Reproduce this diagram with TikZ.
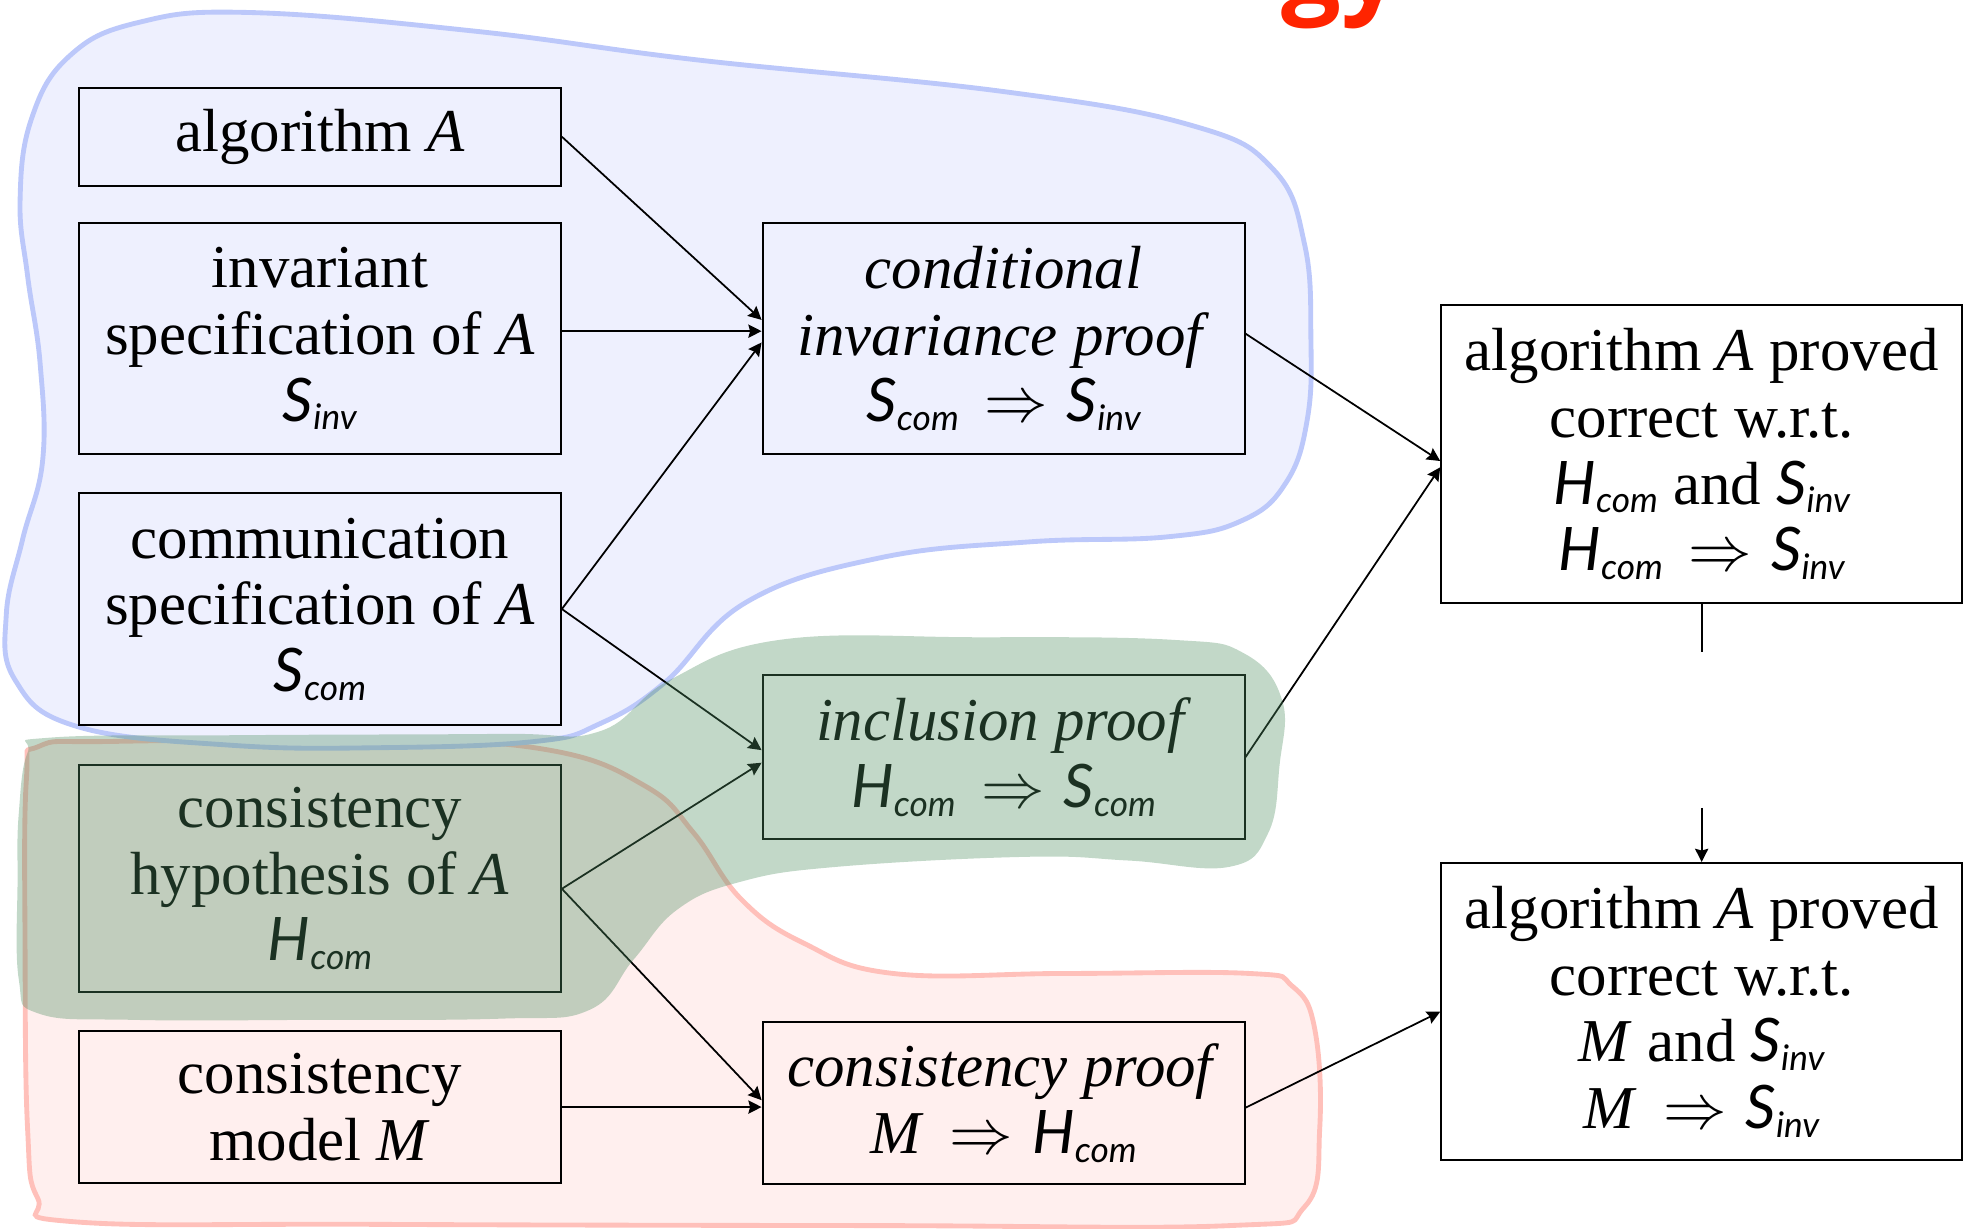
\documentclass[tikz,border=0pt]{standalone}
\usepackage{fontspec}
\setmainfont{Liberation Serif}
\newfontfamily\specfont{Lato}
\newfontfamily\headfont{Open Sans}
\usetikzlibrary{arrows.meta,calc}

\definecolor{bluefill}{RGB}{238,240,254}
\definecolor{blueline}{RGB}{188,200,250}
\definecolor{pinkfill}{RGB}{255,239,238}
\definecolor{pinkline}{RGB}{255,192,186}
\definecolor{greenzone}{RGB}{80,143,98}
\definecolor{headred}{RGB}{255,36,0}

% sans-italic specification symbols with their subscripts
\newcommand\specsym[2]{{\specfont\itshape\fontsize{13.6}{15}\selectfont #1}\raisebox{-2pt}{\specfont\itshape\fontsize{8}{9}\selectfont #2}}
\newcommand\Sinv{\specsym{S}{inv}}
\newcommand\Scom{\specsym{S}{com}}
\newcommand\Hcom{\specsym{H}{com}}
\newcommand\thento{\ $\mkern3mu\Rightarrow\mkern1mu$\ }

\begin{document}
\begin{tikzpicture}[x=0.01cm,y=-0.01cm,
  box/.style={draw,line width=0.45pt,inner sep=0pt,align=center,
    font=\fontsize{13.8}{15.1}\selectfont},
  leftbox/.style={box,minimum width=3.84cm},
  midbox/.style={box,minimum width=3.84cm},
  resultbox/.style={box,minimum width=4.15cm},
  conn/.style={line width=0.4pt,-{Stealth[length=3pt,width=3pt,inset=0.4pt]}},
  plainline/.style={line width=0.4pt},
  bluezone/.style={fill=bluefill,draw=blueline,line width=1.1pt},
  pinkzone/.style={fill=pinkfill,draw=pinkline,line width=1.1pt},
]
\useasboundingbox (0,0) rectangle (1568,979);

% heading, cut by the top edge
\begin{scope}
  \clip (0,0) rectangle (1568,979);
  \node[anchor=base west,text=headred,inner sep=0pt,
        font=\headfont\bfseries\fontsize{24}{24}\selectfont] (head) at (1021,3) {gy};
\end{scope}

% consistency zone
\draw[pinkzone] plot[smooth cycle,tension=0.7] coordinates {
  (21,622) (31,595) (92,591) (305,590) (438,598) (515,627) (553,664)
  (591,717) (641,752) (712,776) (850,776) (996,776) (1030,786) (1048,820)
  (1052,900) (1040,962) (980,977) (700,977) (300,976) (60,974)
  (30,955) (22,900) (20,760)};

% invariance zone
\draw[bluezone] plot[smooth cycle,tension=0.7] coordinates {
  (16,160) (25,95) (55,45) (110,18) (200,10) (380,25) (558,48) (800,73)
  (950,100) (1015,135) (1040,195) (1045,270) (1042,335) (1025,385)
  (990,415) (930,428) (820,432) (700,445) (595,480) (530,544)
  (478,577) (427,591) (305,596) (183,594) (61,579) (12,542) (5,490)
  (18,430) (34,367) (32,290) (22,220)};

% inputs
\node[leftbox,minimum height=0.78cm] (alg) at (255,109) {algorithm \textit{A}};
\node[leftbox,minimum height=1.84cm] (inv) at (255,270)
  {invariant\\specification of \textit{A}\\\Sinv};
\node[leftbox,minimum height=1.85cm] (comm) at (255,485.5)
  {communication\\specification of \textit{A}\\\Scom};
\node[leftbox,minimum height=1.81cm] (hyp) at (255,700.5)
  {consistency\\hypothesis of \textit{A}\\\Hcom};
\node[leftbox,minimum height=1.21cm] (model) at (255,882.5)
  {consistency\\model \textit{M}};

% proofs
\node[midbox,minimum height=1.84cm] (cond) at (800,270)
  {\textit{conditional}\\\textit{invariance proof}\\\Scom\thento\Sinv};
\node[midbox,minimum height=1.31cm] (incl) at (800,603.5)
  {\textit{inclusion proof}\\\Hcom\thento\Scom};
\node[midbox,minimum height=1.29cm] (cons) at (800,879.5)
  {\textit{consistency proof}\\\textit{M}\thento\Hcom};

% results
\node[resultbox,minimum height=2.38cm] (rtop) at (1356.5,362)
  {algorithm \textit{A} proved\\correct w.r.t.\\\Hcom\ and \Sinv\\\Hcom\thento\Sinv};
\node[resultbox,minimum height=2.37cm] (rbot) at (1356.5,806.5)
  {algorithm \textit{A} proved\\correct w.r.t.\\\textit{M} and \Sinv\\\textit{M}\thento\Sinv};

% connectors
\draw[conn] (alg.east) -- ($(cond.west)+(0,-15)$);
\draw[conn] ($(inv.east)+(0,-6)$) -- ($(cond.west)+(0,-6)$);
\draw[conn] (comm.east) -- ($(cond.west)+(0,3)$);
\draw[conn] (comm.east) -- ($(incl.west)+(0,-5.5)$);
\draw[conn] ($(hyp.east)+(0,8)$) -- ($(incl.west)+(0,4.5)$);
\draw[conn] ($(hyp.east)+(0,8)$) -- ($(cons.west)+(0,-2.5)$);
\draw[conn] (model.east) -- (model.east -| cons.west);
\draw[conn] ($(cond.east)+(0,-4)$) -- ($(rtop.west)+(0,5.5)$);
\draw[conn] (incl.east) -- ($(rtop.west)+(0,10.5)$);
\draw[conn] ($(cons.east)+(0,3.5)$) -- (rbot.west);
\draw[plainline] (rtop.south) -- ++(0,38) coordinate (gapA);
\coordinate (gapB) at (1356.5,644);
\draw[conn] (gapB) -- (rbot.north);

% hypothesis zone, laid over everything
\fill[greenzone,opacity=0.35] plot[smooth cycle,tension=0.7] coordinates {
  (40,588) (200,586) (400,585) (478,583) (534,542) (622,510) (780,508)
  (934,510) (992,521) (1022,558) (1020,610) (1011,664) (980,691) (900,686)
  (819,683) (667,691) (590,703) (540,725) (505,765) (470,805) (400,812)
  (250,813) (107,813) (31,808) (15,781) (14,700) (15,648) (22,600)};
\end{tikzpicture}
\end{document}
